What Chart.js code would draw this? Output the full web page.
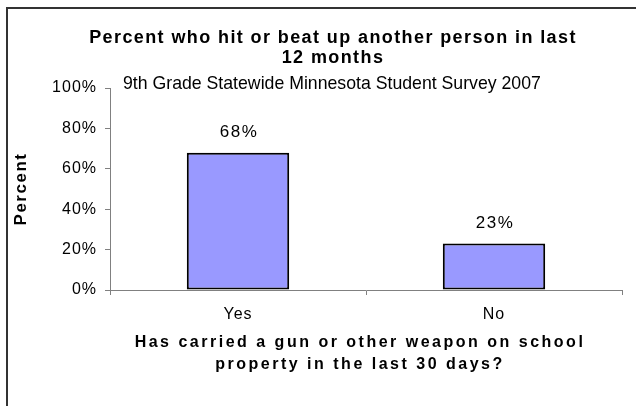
<!DOCTYPE html>
<html>
<head>
<meta charset="utf-8">
<script src="https://cdn.jsdelivr.net/npm/chart.js@4"></script>
<style>
  html, body { margin: 0; padding: 0; background: #fff; }
  #wrap { width: 636px; height: 406px; }
</style>
</head>
<body>
<div id="wrap"><canvas id="chart" width="636" height="406"></canvas></div>
<script>
const categories = ["Yes", "No"];
const percentValues = [68, 23];
const yTicks = [0, 20, 40, 60, 80, 100];
const chartTitle = ["Percent who hit or beat up another person in last", "12 months"];
const subTitle = "9th Grade Statewide Minnesota Student Survey 2007";
const xTitle = ["Has carried a gun or other weapon on school", "property in the last 30 days?"];
const yTitle = "Percent";

Chart.defaults.font.family = '"Liberation Sans", Arial, sans-serif';
Chart.defaults.color = "#000";

// excel stretched its text a bit, so we space the letters
const withSpacing = (ctx, sp, dx, fn) => {
  ctx.save();
  ctx.letterSpacing = sp;
  ctx.translate(dx, 0);
  fn();
  ctx.restore();
};

const spacing = {
  id: "spacing",
  beforeDraw(chart) {
    const ctx = chart.ctx;
    const t = chart.titleBlock;
    if (t && !t._sp) {
      const d = t.draw.bind(t);
      // the old frame was wider than the picture, so the title sits right of centre
      t.draw = (area) => withSpacing(ctx, "1.4px", 22, () => d(area));
      t._sp = true;
    }
    ["x", "y"].forEach((id) => {
      const s = chart.scales[id];
      if (s && !s._sp) {
        const dt = s.drawTitle.bind(s);
        const dl = s.drawLabels.bind(s);
        s.drawTitle = id === "x"
          ? () => withSpacing(ctx, "2.5px", -6, () => dt())
          : () => withSpacing(ctx, "1.5px", 0, () => dt());
        s.drawLabels = (area) => withSpacing(ctx, "1px", 0, () => dl(area));
        s._sp = true;
      }
    });
  }
};

const frame = {
  id: "frame",
  beforeDraw(chart) {
    const ctx = chart.ctx;
    ctx.save();
    ctx.strokeStyle = "#333";
    ctx.lineWidth = 2;
    ctx.beginPath();
    ctx.moveTo(7, chart.height);
    ctx.lineTo(7, 8);
    ctx.lineTo(chart.width, 8);
    ctx.stroke();
    ctx.restore();
  }
};

const extras = {
  id: "extras",
  afterDatasetsDraw(chart) {
    const ctx = chart.ctx;
    const area = chart.chartArea;
    ctx.save();
    ctx.fillStyle = "#000";
    ctx.textBaseline = "middle";
    ctx.font = '17.7px "Liberation Sans", Arial, sans-serif';
    ctx.textAlign = "left";
    ctx.fillText(subTitle, area.left + 13, area.top - 4);

    ctx.font = '17px "Liberation Sans", Arial, sans-serif';
    ctx.textAlign = "center";
    ctx.letterSpacing = "1.5px";
    chart.getDatasetMeta(0).data.forEach((bar, i) => {
      ctx.fillText(percentValues[i] + "%", bar.x + 1, bar.y - 20);
    });
    ctx.restore();
  }
};

new Chart(document.getElementById("chart"), {
  type: "bar",
  data: {
    labels: categories,
    datasets: [{
      data: percentValues,
      backgroundColor: "#9999FF",
      borderColor: "#000",
      borderWidth: 2,
      borderSkipped: false,
      barPercentage: 0.4,
      categoryPercentage: 1
    }]
  },
  options: {
    responsive: false,
    animation: false,
    layout: { padding: { left: 0, right: 14, top: 0, bottom: 30 } },
    plugins: {
      legend: { display: false },
      tooltip: { enabled: false },
      title: {
        display: true,
        text: chartTitle,
        color: "#000",
        font: { size: 18, weight: "bold", lineHeight: "20px" },
        padding: { top: 28, bottom: 20 }
      }
    },
    scales: {
      x: {
        afterFit: (s) => { s.height = 86; },
        grid: { drawOnChartArea: false, tickLength: 5, color: "#808080", offset: true },
        border: { color: "#808080" },
        ticks: { font: { size: 16 }, padding: 10, color: "#000" },
        title: {
          display: true,
          text: xTitle,
          font: { size: 16, weight: "bold", lineHeight: "22px" },
          padding: { top: 0, bottom: 0 }
        }
      },
      y: {
        min: 0,
        max: 100,
        afterFit: (s) => { s.width = 110; },
        afterBuildTicks: (s) => { s.ticks = yTicks.map((v) => ({ value: v })); },
        grid: { drawOnChartArea: false, tickLength: 5, color: "#808080" },
        border: { color: "#808080" },
        ticks: { font: { size: 16 }, padding: 8, color: "#000", callback: (v) => v + "%" },
        title: {
          display: true,
          text: yTitle,
          font: { size: 17, weight: "bold", lineHeight: "20px" },
          padding: { top: 11, bottom: 0 }
        }
      }
    }
  },
  plugins: [spacing, frame, extras]
});
</script>
</body>
</html>
